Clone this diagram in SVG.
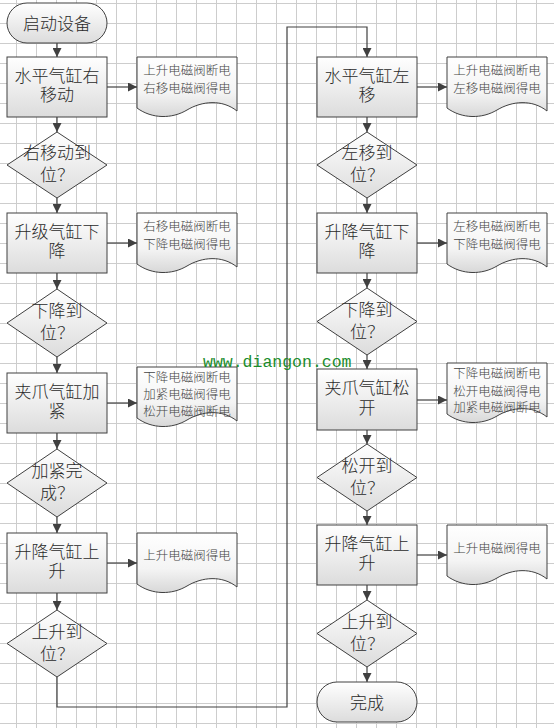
<svg xmlns="http://www.w3.org/2000/svg" width="554" height="728" viewBox="0 0 554 728">
<defs>
<linearGradient id="gf" x1="0" y1="0" x2="0" y2="1"><stop offset="0" stop-color="#ffffff"/><stop offset="1" stop-color="#dcdcdc"/></linearGradient>
<linearGradient id="gd" x1="0" y1="0" x2="0" y2="1"><stop offset="0" stop-color="#ffffff"/><stop offset="0.6" stop-color="#f4f4f4"/><stop offset="1" stop-color="#d8d8d8"/></linearGradient>
<pattern id="grid" x="16" y="3" width="20" height="20" patternUnits="userSpaceOnUse"><path d="M0.5 0 V20 M0 0.5 H20" fill="none" stroke="#cdcdcd" stroke-width="1"/></pattern>
<marker id="ah" viewBox="0 0 10 10" refX="10" refY="5" markerWidth="9" markerHeight="9" markerUnits="userSpaceOnUse" orient="auto"><path d="M0,0 L10,5 L0,10 Z" fill="#404040"/></marker>
<path id="docshape" d="M0,0 H100 V54 C85,42 65,44 50,53 C35,62 15,62 0,51 Z"/>
</defs>
<style>
.shp{fill:url(#gf);stroke:#404040;stroke-width:1}
.doc{fill:url(#gd);stroke:#404040;stroke-width:1}
.t{font-family:"Noto Sans CJK SC","Noto Sans",sans-serif;font-size:17px;font-weight:300;fill:#2a2a2a;text-anchor:middle}
.dt{font-family:"Noto Sans CJK SC","Noto Sans",sans-serif;font-size:12.5px;font-weight:300;fill:#444;text-anchor:middle}
.c{fill:none;stroke:#404040;stroke-width:1.2}
.wm{font-family:"Liberation Mono",monospace;font-size:16.5px;fill:#1a8c2a}
</style>
<rect width="554" height="728" fill="#fff"/>
<rect x="-4" y="-17" width="560" height="760" fill="url(#grid)"/>

<g id="connectors">
<path class="c" d="M57,43 V57" marker-end="url(#ah)"/>
<path class="c" d="M107,87 H137" marker-end="url(#ah)"/>
<path class="c" d="M57,117 V132" marker-end="url(#ah)"/>
<path class="c" d="M57,198 V213" marker-end="url(#ah)"/>
<path class="c" d="M107,243 H137" marker-end="url(#ah)"/>
<path class="c" d="M57,273 V289" marker-end="url(#ah)"/>
<path class="c" d="M57,357 V373" marker-end="url(#ah)"/>
<path class="c" d="M107,403 H137" marker-end="url(#ah)"/>
<path class="c" d="M57,433 V449" marker-end="url(#ah)"/>
<path class="c" d="M57,517 V533" marker-end="url(#ah)"/>
<path class="c" d="M107,563 H137" marker-end="url(#ah)"/>
<path class="c" d="M57,593 V610" marker-end="url(#ah)"/>
<path class="c" d="M57,677 V707 H287 V27 H367 V57" marker-end="url(#ah)"/>
<path class="c" d="M417,87 H447" marker-end="url(#ah)"/>
<path class="c" d="M367,117 V132" marker-end="url(#ah)"/>
<path class="c" d="M367,198 V213" marker-end="url(#ah)"/>
<path class="c" d="M417,243 H447" marker-end="url(#ah)"/>
<path class="c" d="M367,273 V288" marker-end="url(#ah)"/>
<path class="c" d="M367,355 V369" marker-end="url(#ah)"/>
<path class="c" d="M417,400 H447" marker-end="url(#ah)"/>
<path class="c" d="M367,430 V444" marker-end="url(#ah)"/>
<path class="c" d="M367,511 V525" marker-end="url(#ah)"/>
<path class="c" d="M417,555 H447" marker-end="url(#ah)"/>
<path class="c" d="M367,585 V600" marker-end="url(#ah)"/>
<path class="c" d="M367,667 V682" marker-end="url(#ah)"/>
</g>

<g id="start"><rect class="shp" x="7" y="3" width="100" height="40" rx="20"/><text class="t" x="57" y="29.5">启动设备</text></g>
<g id="b1"><rect class="shp" x="7" y="57" width="100" height="60"/><text class="t" x="57" y="81.5">水平气缸右<tspan x="57" dy="19.5">移动</tspan></text></g>
<g id="doc1"><use href="#docshape" class="doc" x="137" y="57"/><text class="dt" x="187" y="75">上升电磁阀断电<tspan x="187" dy="17.5">右移电磁阀得电</tspan></text></g>
<g id="d1"><path class="shp" d="M57,132 L107,165 L57,198 L7,165 Z"/><text class="t" x="57" y="159">右移动到<tspan x="57" dy="22">位？</tspan></text></g>
<g id="b2"><rect class="shp" x="7" y="213" width="100" height="60"/><text class="t" x="57" y="237.5">升级气缸下<tspan x="57" dy="19.5">降</tspan></text></g>
<g id="doc2"><use href="#docshape" class="doc" x="137" y="213"/><text class="dt" x="187" y="231">右移电磁阀断电<tspan x="187" dy="17.5">下降电磁阀得电</tspan></text></g>
<g id="d2"><path class="shp" d="M57,289 L107,323 L57,357 L7,323 Z"/><text class="t" x="57" y="317">下降到<tspan x="57" dy="22">位？</tspan></text></g>
<g id="b3"><rect class="shp" x="7" y="373" width="100" height="60"/><text class="t" x="57" y="397.5">夹爪气缸加<tspan x="57" dy="19.5">紧</tspan></text></g>
<g id="doc3"><use href="#docshape" class="doc" x="137" y="367" transform="translate(0,0)"/><text class="dt" x="187" y="381.5">下降电磁阀断电<tspan x="187" dy="17">加紧电磁阀得电</tspan><tspan x="187" dy="17.5">松开电磁阀断电</tspan></text></g>
<g id="d3"><path class="shp" d="M57,449 L107,483 L57,517 L7,483 Z"/><text class="t" x="57" y="477">加紧完<tspan x="57" dy="22">成？</tspan></text></g>
<g id="b4"><rect class="shp" x="7" y="533" width="100" height="60"/><text class="t" x="57" y="557.5">升降气缸上<tspan x="57" dy="19.5">升</tspan></text></g>
<g id="doc4"><use href="#docshape" class="doc" x="137" y="533"/><text class="dt" x="187" y="559.5">上升电磁阀得电</text></g>
<g id="d4"><path class="shp" d="M57,610 L107,643.5 L57,677 L7,643.5 Z"/><text class="t" x="57" y="637.5">上升到<tspan x="57" dy="22">位？</tspan></text></g>

<g id="b5"><rect class="shp" x="317" y="57" width="100" height="60"/><text class="t" x="367" y="81.5">水平气缸左<tspan x="367" dy="19.5">移</tspan></text></g>
<g id="doc5"><use href="#docshape" class="doc" x="447" y="57"/><text class="dt" x="497" y="75">上升电磁阀断电<tspan x="497" dy="17.5">左移电磁阀得电</tspan></text></g>
<g id="d5"><path class="shp" d="M367,132 L417,165 L367,198 L317,165 Z"/><text class="t" x="367" y="159">左移到<tspan x="367" dy="22">位？</tspan></text></g>
<g id="b6"><rect class="shp" x="317" y="213" width="100" height="60"/><text class="t" x="367" y="237.5">升降气缸下<tspan x="367" dy="19.5">降</tspan></text></g>
<g id="doc6"><use href="#docshape" class="doc" x="447" y="213"/><text class="dt" x="497" y="231">左移电磁阀断电<tspan x="497" dy="17.5">下降电磁阀得电</tspan></text></g>
<g id="d6"><path class="shp" d="M367,288 L417,321.5 L367,355 L317,321.5 Z"/><text class="t" x="367" y="315.5">下降到<tspan x="367" dy="22">位？</tspan></text></g>
<g id="b7"><rect class="shp" x="317" y="369" width="100" height="61"/><text class="t" x="367" y="394">夹爪气缸松<tspan x="367" dy="19.5">开</tspan></text></g>
<g id="doc7"><use href="#docshape" class="doc" x="447" y="363"/><text class="dt" x="497" y="377.5">下降电磁阀断电<tspan x="497" dy="18">松开电磁阀得电</tspan><tspan x="497" dy="16.5">加紧电磁阀断电</tspan></text></g>
<g id="d7"><path class="shp" d="M367,444 L417,477.5 L367,511 L317,477.5 Z"/><text class="t" x="367" y="471.5">松开到<tspan x="367" dy="22">位？</tspan></text></g>
<g id="b8"><rect class="shp" x="317" y="525" width="100" height="60"/><text class="t" x="367" y="549.5">升降气缸上<tspan x="367" dy="19.5">升</tspan></text></g>
<g id="doc8"><use href="#docshape" class="doc" x="447" y="525"/><text class="dt" x="497" y="552.5">上升电磁阀得电</text></g>
<g id="d8"><path class="shp" d="M367,600 L417,633.5 L367,667 L317,633.5 Z"/><text class="t" x="367" y="627.5">上升到<tspan x="367" dy="22">位？</tspan></text></g>
<g id="end"><rect class="shp" x="317" y="682" width="100" height="40" rx="20"/><text class="t" x="367" y="708.5">完成</text></g>

<text class="wm" x="203" y="367">www.diangon.com</text>
</svg>
